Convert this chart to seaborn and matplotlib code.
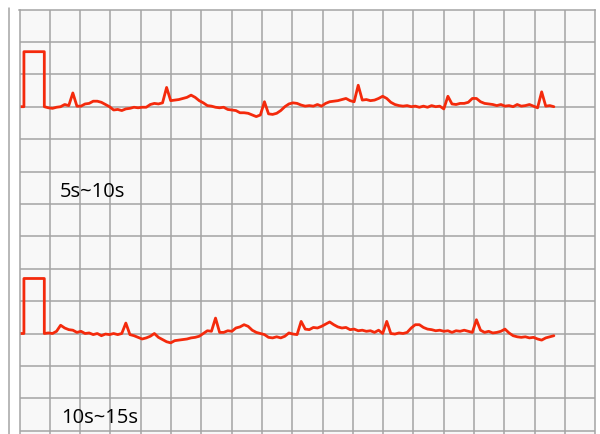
import numpy as np
import pandas as pd
import matplotlib
matplotlib.use("Agg")
import matplotlib.pyplot as plt
from matplotlib.lines import Line2D
import seaborn as sns

# ECG lead samples (mV), one value every 40 ms, two consecutive 5-second strips
SAMPLE_DT = 0.04
strip_5_10 = [
    0.00, -0.02, -0.03, -0.01, 0.00, 0.04, 0.02, 0.25, 0.01, 0.01,
    0.05, 0.06, 0.10, 0.10, 0.08, 0.04, 0.00, -0.06, -0.05, -0.07,
    -0.04, -0.03, -0.01, -0.02, -0.01, -0.01, 0.04, 0.06, 0.05, 0.07,
    0.35, 0.11, 0.12, 0.13, 0.15, 0.17, 0.21, 0.17, 0.11, 0.07,
    0.02, 0.01, -0.01, -0.02, -0.01, -0.05, -0.06, -0.07, -0.11, -0.11,
    -0.12, -0.15, -0.18, -0.15, 0.09, -0.13, -0.14, -0.12, -0.07, 0.00,
    0.05, 0.07, 0.06, 0.03, 0.01, 0.02, 0.01, 0.04, 0.01, 0.06,
    0.09, 0.10, 0.11, 0.13, 0.15, 0.11, 0.09, 0.39, 0.12, 0.13,
    0.11, 0.12, 0.15, 0.19, 0.15, 0.08, 0.04, 0.02, 0.01, 0.02,
    0.00, 0.01, -0.01, 0.01, -0.01, 0.02, 0.00, 0.01, -0.04, 0.19,
    0.05, 0.04, 0.06, 0.06, 0.08, 0.15, 0.15, 0.09, 0.06, 0.05,
    0.04, 0.02, 0.04, 0.01, 0.02, 0.00, 0.04, 0.01, 0.02, 0.04,
    0.01, -0.02, 0.27, 0.01, 0.02, 0.00,
]
strip_10_15 = [
    0.00, 0.01, 0.00, 0.04, 0.15, 0.10, 0.07, 0.06, 0.02, 0.04,
    0.00, 0.01, -0.02, 0.00, -0.04, -0.01, -0.02, 0.00, -0.02, 0.00,
    0.19, -0.02, -0.04, -0.07, -0.10, -0.08, -0.05, 0.00, -0.07, -0.11,
    -0.15, -0.17, -0.13, -0.12, -0.11, -0.10, -0.08, -0.07, -0.05, 0.00,
    0.05, 0.04, 0.28, 0.02, 0.02, 0.05, 0.04, 0.10, 0.12, 0.16,
    0.13, 0.06, 0.02, 0.00, -0.02, -0.07, -0.08, -0.06, -0.08, -0.05,
    0.01, -0.01, -0.02, 0.22, 0.08, 0.07, 0.11, 0.10, 0.13, 0.17,
    0.21, 0.16, 0.12, 0.10, 0.11, 0.07, 0.08, 0.05, 0.06, 0.04,
    0.05, 0.02, 0.06, 0.00, 0.22, 0.00, -0.01, 0.01, 0.00, 0.02,
    0.10, 0.16, 0.16, 0.11, 0.08, 0.07, 0.05, 0.06, 0.04, 0.05,
    0.02, 0.05, 0.04, 0.06, 0.04, 0.02, 0.25, 0.06, 0.02, 0.04,
    0.01, 0.02, 0.04, 0.08, 0.01, -0.04, -0.06, -0.07, -0.06, -0.08,
    -0.07, -0.10, -0.12, -0.08, -0.06, -0.04,
]
# 1 mV / 200 ms calibration pulse preceding each strip
cal_t = [-0.25, -0.20, -0.20, 0.0, 0.0]
cal_mv = [0.0, 0.0, 1.0, 1.0, 0.0]
strip_labels = ["5s~10s", "10s~15s"]

# paper grid: one large box = 0.2973 s x 0.589 mV
GRID_S = 0.2973
GRID_MV = 0.589
N_COLS, N_ROWS = 19, 13
X0 = -0.2434
BASE_ROWS = [10, 3]          # strip baselines, in boxes above the bottom grid line
GRID_COLOR = "#a4a4a4"
TRACE_COLOR = "#f42a0c"

sns.set_style("white")
plt.rcParams["font.family"] = ["Open Sans", "DejaVu Sans"]

W, H = 600, 434
fig = plt.figure(figsize=(W / 100, H / 100), dpi=100)
fig.patch.set_facecolor("white")

left_px, right_px, top_px = 19.5, 595.2, 9.5
ax = fig.add_axes([left_px / W, 0, (right_px - left_px) / W, 1 - top_px / H])
ax.set_facecolor("#f8f8f8")

x_lo, x_hi = X0, X0 + N_COLS * GRID_S
y_hi = N_ROWS * GRID_MV
px_per_mv = (430.7 - top_px) / y_hi
y_lo = -(H - 430.7) / px_per_mv
ax.set_xlim(x_lo, x_hi)
ax.set_ylim(y_lo, y_hi)

ax.set_xticks([x_lo + k * GRID_S for k in range(1, N_COLS)])
ax.set_yticks([k * GRID_MV for k in range(0, N_ROWS)])
ax.tick_params(length=0, labelbottom=False, labelleft=False)
ax.grid(True, color=GRID_COLOR, lw=1.1)
for side in ["left", "right", "top"]:
    ax.spines[side].set_visible(True)
    ax.spines[side].set_color(GRID_COLOR)
    ax.spines[side].set_linewidth(1.1)
ax.spines["bottom"].set_visible(False)

for values, row in zip([strip_5_10, strip_10_15], BASE_ROWS):
    base = row * GRID_MV
    t = list(cal_t) + list(np.arange(len(values)) * SAMPLE_DT)
    mv = list(cal_mv) + list(values)
    df = pd.DataFrame({"t": t, "mv": [base + v for v in mv]})
    sns.lineplot(data=df, x="t", y="mv", sort=False, estimator=None,
                 color=TRACE_COLOR, lw=2.0, ax=ax, legend=False)

ax.set_xlabel("")
ax.set_ylabel("")

# strip time-range captions
fig.text(60 / W, 1 - 192 / H, strip_labels[0], fontsize=14.5, color="black",
         ha="left", va="center")
fig.text(61 / W, 1 - 418 / H, strip_labels[1], fontsize=14.5, color="black",
         ha="left", va="center")

# outer margin rule at the left edge
fig.add_artist(Line2D([9.3 / W, 9.3 / W], [0, 1 - 8 / H], transform=fig.transFigure,
                      color=GRID_COLOR, lw=1.1))

fig.savefig("out.png", dpi=100, facecolor="white")
